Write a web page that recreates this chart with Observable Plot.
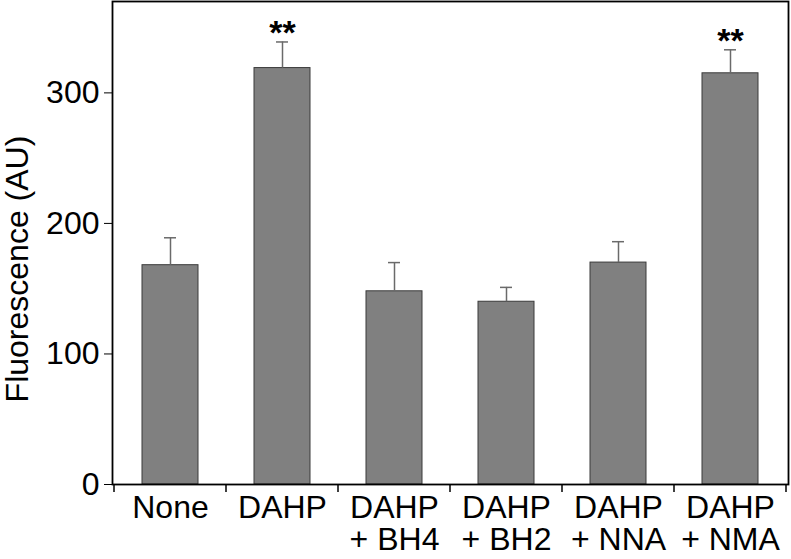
<!DOCTYPE html>
<html>
<head>
<meta charset="utf-8">
<script src="https://cdn.jsdelivr.net/npm/d3@7"></script>
<script src="https://cdn.jsdelivr.net/npm/@observablehq/plot@0.6"></script>
<style>
  html, body { margin: 0; padding: 0; background: #fff; }
  #chart { width: 791px; height: 559px; }
</style>
</head>
<body>
<div id="chart"></div>
<script>
const categories = ["None", "DAHP", "DAHP + BH4", "DAHP + BH2", "DAHP + NNA", "DAHP + NMA"];
const tickLabels = ["None", "DAHP", "DAHP\n+ BH4", "DAHP\n+ BH2", "DAHP\n+ NNA", "DAHP\n+ NMA"];
const means = [168, 319, 148, 140, 170, 315];
const errors = [21, 20, 22, 11, 16, 18];
const marks = ["", "**", "", "", "", "**"];
const yTicks = [0, 100, 200, 300];

const data = categories.map((c, i) => ({
  cat: c, mean: means[i], top: means[i] + errors[i], sig: marks[i]
}));
const labelOf = new Map(categories.map((c, i) => [c, tickLabels[i]]));

const W = 791, H = 559, ML = 112, MR = 3, MT = 1, MB = 75;
const FS = 32;

const chart = Plot.plot({
  width: W,
  height: H,
  marginLeft: ML,
  marginRight: MR,
  marginTop: MT,
  marginBottom: MB,
  style: { fontFamily: "'Liberation Sans', Arial, sans-serif", fontSize: FS + "px", color: "#000", background: "#fff" },
  x: { domain: categories, paddingInner: 0.5, paddingOuter: 0.25, label: null },
  y: { domain: [0, 370], label: null },
  marks: [
    Plot.barY(data, { x: "cat", y: "mean", fill: "#808080", stroke: "#3a3a3a", strokeWidth: 1 }),
    Plot.ruleX(data, { x: "cat", y1: "mean", y2: "top", stroke: "#6a6a6a", strokeWidth: 1.5 }),
    Plot.tickY(data, { x: "cat", y: "top", stroke: "#6a6a6a", strokeWidth: 1.5, insetLeft: 22, insetRight: 22 }),
    Plot.text(data, { x: "cat", y: "top", text: "sig", dy: -9, fontSize: 34, fontWeight: "bold", fill: "#000" }),
    Plot.axisY(yTicks, { tickSize: 8, tickPadding: 5, fontSize: FS, label: null }),
    Plot.axisX({ tickSize: 0, tickPadding: 10, fontSize: FS, lineHeight: 1.02, tickFormat: d => labelOf.get(d), label: null }),
    Plot.frame({ stroke: "#000", strokeWidth: 1.8 }),
    Plot.text(["Fluorescence (AU)"], { frameAnchor: "left", textAnchor: "middle", dx: -95, dy: 26, rotate: -90, fontSize: FS, fill: "#000" })
  ]
});
document.getElementById("chart").appendChild(chart);

// boundary ticks between categories below the x axis, positioned through Plot's x scale
const xs = chart.scale("x");
const gap = (xs.step - xs.bandwidth) / 2;
const edges = categories.map(c => xs.apply(c) - gap);
edges.push(xs.apply(categories[categories.length - 1]) + xs.bandwidth + gap);
const yBase = H - MB;
const g = d3.select(chart).append("g").attr("stroke", "#000").attr("stroke-width", 1.5);
for (const e of edges) {
  g.append("line").attr("x1", e).attr("x2", e).attr("y1", yBase).attr("y2", yBase + 8);
}
</script>
</body>
</html>
